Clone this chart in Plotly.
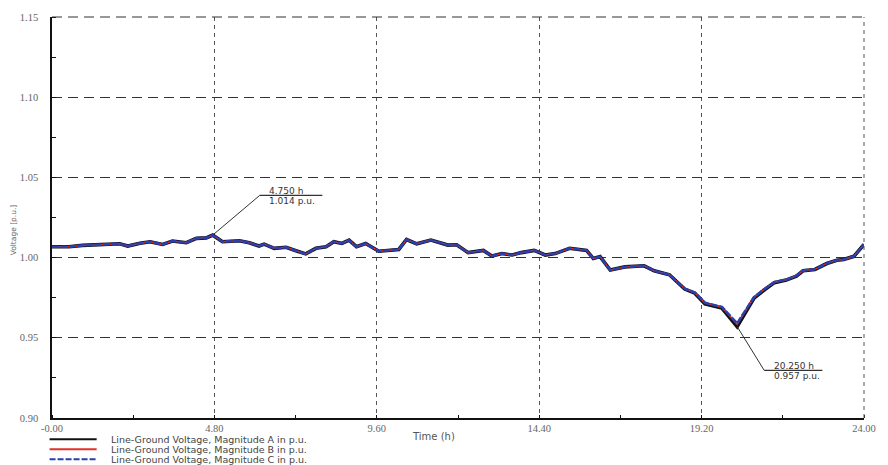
import plotly.graph_objects as go

# ---- data ----
time_h = [0.0, 0.5, 0.9, 1.5, 2.0, 2.24, 2.6, 2.9, 3.27, 3.56, 3.97, 4.27, 4.56, 4.75,
          5.04, 5.54, 5.83, 6.12, 6.27, 6.57, 6.92, 7.21, 7.5, 7.8, 8.1, 8.33, 8.57, 8.78,
          9.0, 9.27, 9.66, 10.25, 10.48, 10.78, 11.2, 11.7, 11.96, 12.3, 12.75, 13.0, 13.3,
          13.6, 13.87, 14.25, 14.58, 14.87, 15.3, 15.8, 16.0, 16.2, 16.5, 16.93, 17.5, 17.8,
          18.25, 18.7, 19.0, 19.3, 19.6, 19.8, 20.25, 20.75, 21.05, 21.35, 21.7, 22.0, 22.2,
          22.55, 22.9, 23.2, 23.4, 23.7, 24.0]

volt_a = [1.0068, 1.0068, 1.0076, 1.0084, 1.0086, 1.0072, 1.0090, 1.0099, 1.0082, 1.0103,
          1.0093, 1.0120, 1.0123, 1.0140, 1.0099, 1.0105, 1.0093, 1.0072, 1.0084, 1.0058,
          1.0064, 1.0043, 1.0023, 1.0058, 1.0068, 1.0099, 1.0088, 1.0109, 1.0068, 1.0088,
          1.0040, 1.0051, 1.0113, 1.0086, 1.0109, 1.0078, 1.0080, 1.0031, 1.0045, 1.0010,
          1.0025, 1.0016, 1.0031, 1.0045, 1.0016, 1.0025, 1.0058, 1.0045, 0.9994, 1.0006,
          0.9922, 0.9942, 0.9949, 0.9918, 0.9893, 0.9804, 0.9778, 0.9712, 0.9696, 0.9685,
          0.9570, 0.9747, 0.9798, 0.9844, 0.9860, 0.9885, 0.9918, 0.9926, 0.9963, 0.9983,
          0.9988, 1.0008, 1.0082]

volt_b = [1.0068, 1.0068, 1.0076, 1.0084, 1.0086, 1.0072, 1.0090, 1.0099, 1.0082, 1.0103,
          1.0093, 1.0120, 1.0123, 1.0140, 1.0099, 1.0105, 1.0093, 1.0072, 1.0084, 1.0058,
          1.0064, 1.0043, 1.0023, 1.0058, 1.0068, 1.0099, 1.0088, 1.0109, 1.0068, 1.0088,
          1.0040, 1.0051, 1.0113, 1.0086, 1.0109, 1.0078, 1.0080, 1.0031, 1.0045, 1.0010,
          1.0025, 1.0016, 1.0031, 1.0045, 1.0016, 1.0025, 1.0058, 1.0045, 0.9994, 1.0006,
          0.9922, 0.9942, 0.9949, 0.9918, 0.9893, 0.9806, 0.9781, 0.9716, 0.9701, 0.9690,
          0.9585, 0.9752, 0.9802, 0.9847, 0.9862, 0.9887, 0.9919, 0.9927, 0.9964, 0.9983,
          0.9988, 1.0008, 1.0082]

volt_c = [1.0068, 1.0068, 1.0076, 1.0084, 1.0086, 1.0072, 1.0090, 1.0099, 1.0082, 1.0103,
          1.0093, 1.0120, 1.0123, 1.0140, 1.0099, 1.0105, 1.0093, 1.0072, 1.0084, 1.0058,
          1.0064, 1.0043, 1.0023, 1.0058, 1.0068, 1.0099, 1.0088, 1.0109, 1.0068, 1.0088,
          1.0040, 1.0051, 1.0113, 1.0086, 1.0109, 1.0078, 1.0080, 1.0031, 1.0045, 1.0010,
          1.0025, 1.0016, 1.0031, 1.0045, 1.0016, 1.0025, 1.0058, 1.0045, 0.9994, 1.0006,
          0.9922, 0.9942, 0.9949, 0.9918, 0.9893, 0.9806, 0.9782, 0.9718, 0.9703, 0.9692,
          0.9590, 0.9753, 0.9803, 0.9847, 0.9862, 0.9887, 0.9919, 0.9927, 0.9964, 0.9983,
          0.9988, 1.0008, 1.0082]

series_names = ["Line-Ground Voltage, Magnitude A in p.u.",
                "Line-Ground Voltage, Magnitude B in p.u.",
                "Line-Ground Voltage, Magnitude C in p.u."]

x_ticks = [0.0, 4.8, 9.6, 14.4, 19.2, 24.0]
x_ticktext = ["-0.00", "4.80", "9.60", "14.40", "19.20", "24.00"]
y_ticks = [0.90, 0.95, 1.00, 1.05, 1.10, 1.15]
y_ticktext = ["0.90", "0.95", "1.00", "1.05", "1.10", "1.15"]

markers = [(4.75, 1.014), (20.25, 0.957)]

X_RANGE = [0, 24]
Y_RANGE = [0.90, 1.15]

# ---- figure ----
fig = go.Figure()
fig.add_trace(go.Scatter(x=time_h, y=volt_a, mode="lines", name=series_names[0],
                         line=dict(color="#111111", width=3.6)))
fig.add_trace(go.Scatter(x=time_h, y=volt_b, mode="lines", name=series_names[1],
                         line=dict(color="#e0302a", width=1.5)))
fig.add_trace(go.Scatter(x=time_h, y=volt_c, mode="lines", name=series_names[2],
                         line=dict(color="#2b3fb0", width=2.6, dash="7px,1.5px")))

tick_font = dict(family="Liberation Serif", size=10.5, color="#666666")

fig.update_layout(
    width=888, height=465,
    margin=dict(l=52, r=22, t=15, b=47),
    paper_bgcolor="white", plot_bgcolor="white",
    showlegend=False,
    xaxis=dict(range=X_RANGE, tickvals=x_ticks, ticktext=x_ticktext,
               showgrid=True, gridcolor="#555555", gridwidth=1, griddash="4px,4px",
               showline=True, linecolor="#111111", linewidth=1.5, zeroline=False,
               ticks="", tickfont=tick_font, ticklabelstandoff=0,
               minor=dict(dtick=2.4, tick0=0, ticks="inside", ticklen=3,
                          tickcolor="#111111", showgrid=False)),
    yaxis=dict(range=Y_RANGE, tickvals=y_ticks, ticktext=y_ticktext,
               showgrid=True, gridcolor="#333333", gridwidth=1.2, griddash="10px,6px",
               showline=True, linecolor="#111111", linewidth=1.5, zeroline=False,
               ticks="", tickfont=tick_font, ticklabelstandoff=10,
               minor=dict(dtick=0.025, tick0=0.9, ticks="inside", ticklen=4,
                          tickcolor="#111111", showgrid=False)),
)

# grid lines on the top and right borders (dashed, like the reference)
fig.add_shape(type="line", xref="paper", yref="paper", x0=0, x1=1, y0=1, y1=1,
              line=dict(color="#333333", width=1.2, dash="10px,6px"))
fig.add_shape(type="line", xref="paper", yref="paper", x0=1, x1=1, y0=0, y1=1,
              line=dict(color="#555555", width=1, dash="4px,4px"))

# axis titles
fig.add_annotation(text="Voltage [p.u.]", xref="paper", yref="paper",
                   x=-0.047, y=0.47, xanchor="center", yanchor="middle",
                   textangle=-90, showarrow=False,
                   font=dict(family="DejaVu Sans", size=7.5, color="#666666"))
fig.add_annotation(text="Time (h)", xref="paper", yref="paper",
                   x=0.47, y=-0.045, xanchor="center", yanchor="middle",
                   showarrow=False,
                   font=dict(family="DejaVu Sans", size=10, color="#555555"))

# value markers (leader lines + labels)
offsets = [(1.39, 0.0248, 1.85), (0.80, -0.0273, 1.72)]
for (mx, my), (dx, dy, hl) in zip(markers, offsets):
    kx, ky = mx + dx, my + dy
    fig.add_shape(type="line", xref="x", yref="y", x0=mx, y0=my, x1=kx, y1=ky,
                  line=dict(color="#333333", width=1))
    fig.add_shape(type="line", xref="x", yref="y", x0=kx, y0=ky, x1=kx + hl, y1=ky,
                  line=dict(color="#333333", width=1.2))
    fig.add_annotation(text=f"{mx:.3f} h", xref="x", yref="y", x=kx + 0.25, y=ky,
                       xanchor="left", yanchor="bottom", yshift=-2, showarrow=False,
                       borderpad=0,
                       font=dict(family="DejaVu Sans", size=9, color="#333333"))
    fig.add_annotation(text=f"{my:.3f} p.u.", xref="x", yref="y", x=kx + 0.25, y=ky,
                       xanchor="left", yanchor="top", yshift=0, showarrow=False,
                       borderpad=0,
                       font=dict(family="DejaVu Sans", size=9, color="#333333"))

# legend drawn at the bottom-left
leg_colors = ["#111111", "#e0302a", "#2b3fb0"]
leg_dash = ["solid", "solid", "6px,2px"]
leg_y = [-0.0533, -0.0782, -0.1030]
for name, col, dsh, yy in zip(series_names, leg_colors, leg_dash, leg_y):
    fig.add_shape(type="line", xref="paper", yref="paper", x0=-0.003, x1=0.055,
                  y0=yy, y1=yy, line=dict(color=col, width=2, dash=dsh))
    fig.add_annotation(text=name, xref="paper", yref="paper", x=0.071, y=yy,
                       xanchor="left", yanchor="middle", showarrow=False,
                       borderpad=0,
                       font=dict(family="DejaVu Sans", size=9.5, color="#444444"))

fig.write_html("out.html")
